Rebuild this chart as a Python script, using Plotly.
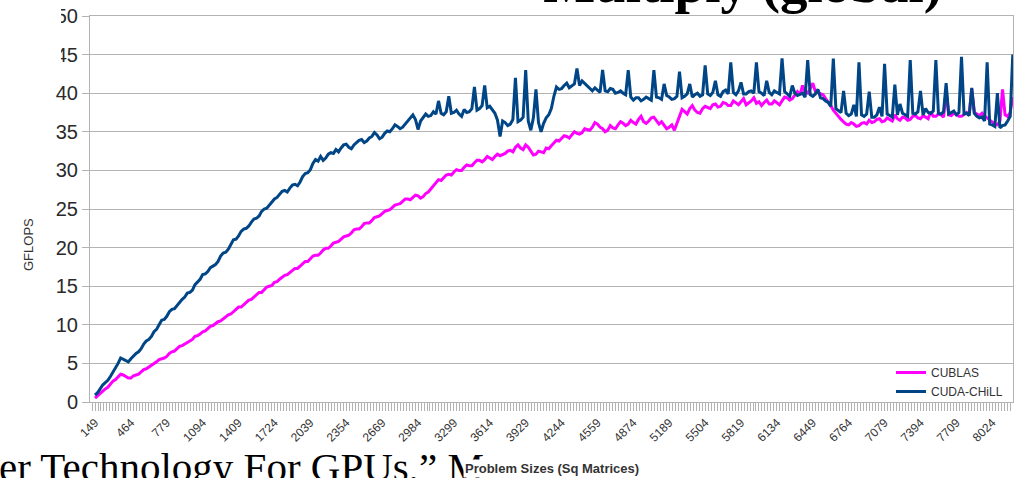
import plotly.graph_objects as go

# Problem sizes (square matrix dimension) along the category axis
sizes = [149 + 22.5 * k for k in range(359)]

cublas_gflops = [
    0.5, 0.8, 1.1, 1.5, 1.7, 1.9, 2.3, 2.7, 2.9, 3.3,
    3.6, 3.5, 3.3, 3.1, 3.1, 3.4, 3.5, 3.6, 3.9, 4.2,
    4.3, 4.5, 4.8, 4.9, 5.2, 5.5, 5.6, 5.7, 5.9, 6.3,
    6.5, 6.6, 6.9, 7.2, 7.3, 7.5, 7.8, 7.9, 8.1, 8.5,
    8.6, 8.8, 9.1, 9.2, 9.5, 9.8, 9.9, 10.2, 10.4, 10.5,
    10.8, 11.1, 11.3, 11.4, 11.7, 12.1, 12.3, 12.3, 12.6, 13.0,
    13.2, 13.3, 13.6, 14.0, 14.2, 14.2, 14.5, 14.9, 15.0, 15.1,
    15.5, 15.6, 15.9, 16.2, 16.4, 16.5, 16.8, 17.1, 17.3, 17.3,
    17.6, 18.0, 18.2, 18.2, 18.5, 18.9, 19.0, 19.0, 19.3, 19.7,
    19.9, 19.9, 20.2, 20.6, 20.7, 20.8, 21.1, 21.4, 21.5, 21.6,
    21.9, 22.3, 22.4, 22.4, 22.7, 23.1, 23.2, 23.2, 23.5, 23.9,
    24.0, 24.1, 24.4, 24.7, 24.8, 24.9, 25.2, 25.5, 25.6, 25.7,
    26.0, 26.3, 26.3, 26.2, 26.5, 26.8, 26.7, 26.4, 26.6, 27.0,
    27.2, 27.6, 28.0, 28.5, 28.8, 28.7, 29.1, 29.4, 29.5, 29.4,
    29.8, 30.1, 30.0, 30.0, 30.4, 30.7, 30.6, 30.6, 31.0, 31.3,
    31.3, 31.1, 31.4, 31.8, 31.6, 31.4, 31.8, 32.1, 31.9, 32.0,
    32.2, 32.5, 32.6, 32.4, 33.0, 33.3, 32.9, 32.7, 33.3, 33.0,
    32.5, 32.0, 32.1, 32.5, 32.4, 32.3, 32.9, 32.8, 33.2, 33.6,
    33.9, 33.8, 34.1, 34.5, 34.4, 34.2, 34.6, 35.0, 34.8, 34.7,
    34.9, 35.4, 35.3, 35.2, 35.6, 36.2, 36.0, 35.6, 35.4, 35.0,
    35.2, 35.8, 35.5, 35.4, 35.9, 36.3, 36.1, 35.8, 36.0, 36.5,
    36.2, 36.0, 36.6, 37.0, 36.3, 36.1, 36.4, 36.8, 36.9, 36.4,
    36.0, 36.3, 35.8, 35.4, 35.6, 35.9, 35.2, 36.2, 37.0, 37.9,
    37.6, 37.3, 38.0, 38.4, 37.8, 37.5, 37.4, 38.0, 38.3, 38.1,
    38.0, 38.5, 38.6, 38.2, 38.3, 38.8, 38.7, 38.4, 38.4, 39.0,
    38.8, 38.5, 38.9, 39.3, 38.5, 38.7, 39.0, 39.4, 38.7, 38.9,
    38.4, 38.8, 39.1, 38.6, 38.6, 39.0, 38.7, 38.5, 39.0, 39.5,
    39.4, 39.1, 39.3, 39.7, 40.2, 39.8, 41.0, 40.1, 40.0, 40.6,
    41.3, 40.2, 40.1, 40.0, 39.8, 39.3, 38.9, 38.4, 37.8, 37.4,
    36.9, 36.6, 36.3, 36.0, 35.9, 36.2, 36.0, 35.7, 35.8, 36.1,
    36.2, 36.0, 36.5, 36.2, 36.3, 36.6, 36.7, 36.3, 36.4, 36.8,
    36.6, 36.4, 37.2, 36.7, 36.5, 36.9, 36.8, 36.5, 36.6, 37.0,
    37.1, 36.8, 36.7, 37.1, 36.9, 36.7, 37.6, 37.0, 37.0, 37.3,
    37.2, 36.9, 40.4, 37.2, 37.1, 37.4, 37.3, 37.0, 37.0, 37.3,
    37.5, 37.2, 40.6, 37.5, 37.3, 37.1, 37.4, 37.0, 36.8, 36.5,
    36.2, 36.0, 35.9, 36.4, 40.5, 37.2, 37.0, 37.5, 39.5,
]

chill_gflops = [
    0.9, 1.2, 1.7, 2.2, 2.5, 2.8, 3.3, 3.9, 4.3, 5.0,
    5.7, 5.5, 5.4, 5.2, 5.6, 6.0, 6.3, 6.5, 6.9, 7.5,
    7.9, 8.1, 8.5, 9.1, 9.4, 10.0, 10.6, 10.7, 11.1, 11.7,
    12.0, 12.1, 12.5, 13.0, 13.3, 13.6, 14.1, 14.2, 14.5, 15.2,
    15.6, 15.9, 16.5, 16.6, 16.9, 17.4, 17.6, 17.8, 18.2, 18.9,
    19.3, 19.4, 19.8, 20.5, 21.0, 21.1, 21.5, 22.1, 22.4, 22.5,
    22.8, 23.3, 23.7, 23.8, 24.1, 24.7, 25.0, 25.1, 25.5, 26.0,
    26.3, 26.5, 26.9, 27.3, 27.4, 27.2, 27.7, 28.1, 28.2, 28.0,
    28.5, 29.2, 29.6, 29.7, 30.1, 30.9, 31.4, 31.2, 31.8, 31.3,
    31.6, 32.1, 32.3, 32.2, 32.7, 32.4, 32.9, 33.3, 33.4, 33.0,
    32.8, 33.3, 33.6, 33.9, 34.0, 33.6, 33.8, 34.2, 34.4, 34.9,
    34.6, 34.1, 34.3, 34.8, 35.1, 35.0, 35.4, 35.9, 35.7, 35.4,
    35.6, 36.0, 36.4, 36.8, 37.2, 36.6, 35.3, 36.4, 36.8, 37.3,
    37.0, 37.1, 37.6, 37.3, 39.0, 37.4, 37.2, 37.6, 39.6, 37.4,
    37.5, 37.8, 37.3, 37.0, 37.9, 37.5, 37.6, 38.0, 40.8, 37.8,
    38.0, 38.4, 41.0, 38.1, 38.3, 37.9, 37.4, 36.5, 34.4, 36.4,
    36.2, 35.8, 36.0, 36.6, 42.0, 36.3, 36.5, 36.9, 43.0, 36.4,
    35.2, 36.8, 40.5, 36.2, 35.0, 36.1, 36.8, 37.2, 38.0, 39.6,
    40.8, 40.5, 40.6, 41.0, 41.3, 40.7, 40.9, 41.2, 43.2, 41.0,
    41.6, 41.3, 41.0, 40.6, 40.3, 40.7, 40.4, 40.1, 43.0, 40.3,
    40.2, 40.6, 40.5, 40.0, 40.1, 40.3, 40.0, 39.8, 43.0, 39.5,
    39.1, 39.4, 39.4, 39.0, 39.2, 39.5, 39.3, 39.1, 43.0, 39.5,
    39.4, 39.2, 41.2, 39.7, 39.5, 39.2, 39.3, 39.6, 42.8, 39.4,
    39.6, 39.9, 41.2, 39.5, 39.8, 40.0, 39.6, 39.8, 43.6, 39.9,
    39.7, 40.1, 41.6, 39.8, 39.6, 40.2, 40.4, 39.9, 44.0, 40.1,
    39.8, 40.3, 41.4, 39.9, 39.9, 40.2, 40.3, 40.0, 44.0, 40.2,
    40.0, 39.7, 41.6, 40.1, 39.8, 40.3, 40.1, 39.9, 44.5, 40.2,
    39.9, 39.6, 41.0, 40.0, 39.7, 39.9, 40.0, 39.5, 44.3, 39.8,
    39.6, 39.9, 40.5, 39.4, 39.3, 39.0, 38.8, 38.3, 44.5, 38.0,
    37.8, 37.5, 40.3, 37.4, 37.1, 37.3, 38.5, 37.0, 44.0, 37.2,
    37.0, 37.3, 40.2, 36.9, 36.9, 37.2, 38.2, 37.0, 43.8, 37.3,
    37.1, 36.9, 41.1, 37.2, 38.6, 37.4, 37.2, 37.0, 44.3, 37.4,
    37.3, 37.6, 40.3, 37.2, 38.0, 37.5, 37.4, 37.7, 44.3, 37.4,
    37.3, 37.6, 41.3, 37.3, 37.5, 37.7, 37.2, 37.5, 44.7, 37.3,
    37.4, 37.1, 40.7, 37.4, 37.0, 36.8, 36.9, 36.4, 44.0, 36.0,
    35.9, 35.7, 40.0, 35.5, 35.8, 35.9, 36.4, 37.0, 45.0,
]

W, H = 1017, 478
ML, MR, MT, MB = 90, 4, 16, 76
PW, PH = W - ML - MR, H - MT - MB
X0, X1 = 105, 8206
Y0, Y1 = 0, 50

GRID = "#b3b3b3"
TXT = "#333333"
SANS = "Liberation Sans, Arial, sans-serif"
SERIF = "Liberation Serif, Times New Roman, serif"


def px_x(px):
    return (px - ML) / PW


def px_y(py):
    return (H - MB - py) / PH


def data_x(px):
    return X0 + (px - ML) * (X1 - X0) / PW


fig = go.Figure()
fig.add_trace(go.Scatter(
    x=sizes, y=cublas_gflops, mode="lines", name="CUBLAS",
    line=dict(color="#ff00ff", width=3), hoverinfo="skip",
))
fig.add_trace(go.Scatter(
    x=sizes, y=chill_gflops, mode="lines", name="CUDA-CHiLL",
    line=dict(color="#004586", width=3), hoverinfo="skip",
))

# slide heading sitting on the top edge of the chart; most of it runs off the page
fig.add_trace(go.Scatter(
    x=[data_x(942)], y=[Y1 - 0.01], mode="text",
    text=["Multiply (global)"], textposition="top left",
    textfont=dict(family=SERIF, size=55, color="black", weight="bold"),
    cliponaxis=False, showlegend=False, hoverinfo="skip",
))

fig.update_layout(
    width=W, height=H,
    margin=dict(l=ML, r=MR, t=MT, b=MB, pad=0),
    paper_bgcolor="white", plot_bgcolor="white",
    font=dict(family=SANS, color=TXT),
    showlegend=True,
    legend=dict(
        x=px_x(1008), y=px_y(406), xanchor="right", yanchor="bottom",
        bgcolor="rgba(255,255,255,0)", borderwidth=0,
        font=dict(family=SANS, size=12, color=TXT),
        tracegroupgap=0, itemwidth=30,
    ),
    xaxis=dict(
        range=[X0, X1],
        tickmode="linear", tick0=149, dtick=315,
        tickangle=-45,
        tickfont=dict(family=SANS, size=12, color=TXT),
        ticks="outside", ticklen=8, tickcolor=GRID, tickwidth=1,
        minor=dict(ticks="outside", ticklen=8, tickcolor=GRID,
                   tick0=149, dtick=26.25, showgrid=False),
        showgrid=False, zeroline=False,
        showline=True, linecolor=GRID, linewidth=1, mirror=True,
    ),
    yaxis=dict(
        range=[Y0, Y1], tickmode="linear", tick0=0, dtick=5,
        tickfont=dict(family=SANS, size=20, color="#2a2a2a"),
        ticks="outside", ticklen=7, tickcolor=GRID, tickwidth=1,
        showgrid=True, gridcolor=GRID, gridwidth=1,
        zeroline=False,
        showline=True, linecolor=GRID, linewidth=1, mirror=True,
    ),
)

annotations = [
    # slide citation line below the chart
    dict(text="er Technology For GPUs,\u201d M", xref="paper", yref="paper",
         x=px_x(-2), y=px_y(443), xanchor="left", yanchor="top",
         showarrow=False, borderpad=0,
         font=dict(family=SERIF, size=41, color="black")),
    # axis titles
    dict(text="<b>Problem Sizes (Sq Matrices)</b>", xref="paper", yref="paper",
         x=px_x(552), y=px_y(468), xanchor="center", yanchor="middle",
         showarrow=False, bgcolor="white", borderpad=1,
         font=dict(family=SANS, size=13, color=TXT)),
    dict(text="GFLOPS", xref="paper", yref="paper", textangle=-90,
         x=px_x(28), y=px_y(245), xanchor="center", yanchor="middle",
         showarrow=False, font=dict(family=SANS, size=13, color=TXT)),
]
fig.update_layout(annotations=annotations)

# white text box of the slide overlapping the upper-left corner
fig.add_shape(type="rect", xref="paper", yref="paper", layer="above",
              x0=px_x(0), x1=px_x(61), y0=px_y(64), y1=px_y(0),
              fillcolor="white", line=dict(width=0))

fig.write_html("out.html")
